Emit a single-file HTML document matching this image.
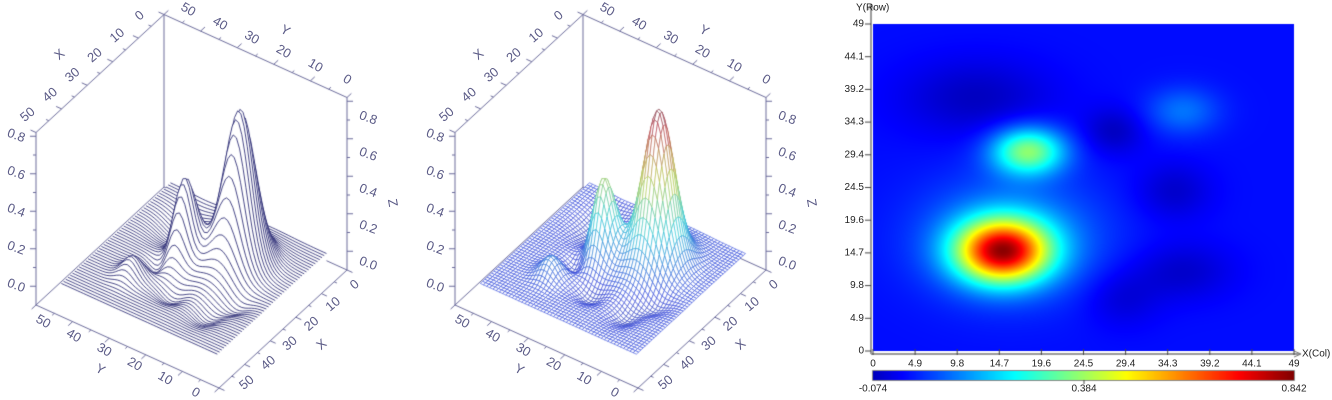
<!DOCTYPE html>
<html><head><meta charset="utf-8"><style>
body{margin:0;background:#fff;width:1332px;height:400px;overflow:hidden;position:relative;font-family:"Liberation Sans",sans-serif}
canvas,svg{position:absolute;left:0;top:0}
</style></head><body>
<canvas id="c" width="1332" height="400"></canvas>
<svg id="s" width="1332" height="400" xmlns="http://www.w3.org/2000/svg"></svg>
<script>
const cv=document.getElementById('c'),ctx=cv.getContext('2d');
const svg=document.getElementById('s');
function G(c,r,cx,cy,sx,sy){return Math.exp(-((c-cx)*(c-cx)/(2*sx*sx)+(r-cy)*(r-cy)/(2*sy*sy)));}
function f(c,r,d){
 const p1x=d?16.5:15,p1y=d?15.5:15,p2x=d?23:18,p2y=d?28.5:30,k=d?1.12:1,a2=d?0.42:0.36;
 return 0.69*G(c,r,p1x,p1y,3.8*k,3.3*k)+0.15*G(c,r,p1x+1,p1y+2,7,6)+a2*G(c,r,p2x,p2y,3*k,2.5*k)
 +0.1*G(c,r,36,36,3,2.5)-0.07*G(c,r,12,38,6,4)-0.07*G(c,r,28,33,2.5,2.5)-0.06*G(c,r,35,24,3,3)
 -0.06*G(c,r,36,12,4,3)-0.05*G(c,r,29,8,3,3);
}
function jet(t){t=Math.max(0,Math.min(1,t));t=0.06+0.94*t;
 const cl=x=>Math.round(255*Math.max(0,Math.min(1,x)));
 return [cl(1.5-Math.abs(4*t-3)),cl(1.5-Math.abs(4*t-2)),cl(1.5-Math.abs(4*t-1))];}
const ZMIN=-0.074,ZMAX=0.842;
function P(ox,X,Y,z){return [347+ox-128*X/50-183*Y/50,270+118*X/50-83*Y/50-(z+0.1)*187.5];}
const NS='http://www.w3.org/2000/svg';
function txt(x,y,s,rot,size,col,anchor){const t=document.createElementNS(NS,'text');
 t.setAttribute('x',x);t.setAttribute('y',y);t.setAttribute('font-size',size||13);
 t.setAttribute('fill',col||'#5a5a86');t.setAttribute('text-anchor',anchor||'middle');
 t.setAttribute('dominant-baseline','middle');
 if(rot)t.setAttribute('transform','rotate('+rot+' '+x+' '+y+')');t.textContent=s;svg.appendChild(t);}
function line(a,b,col,w){ctx.strokeStyle=col;ctx.lineWidth=w||1;ctx.beginPath();ctx.moveTo(a[0],a[1]);ctx.lineTo(b[0],b[1]);ctx.stroke();}
const AX='#6a6a9a';
function box(ox){
 const zt=0.82,zb=-0.1;
 const B=P(ox,0,50,zb),L=P(ox,50,50,zb),R=P(ox,0,0,zb);
 const Bt=P(ox,0,50,zt),Lt=P(ox,50,50,zt),Rt=P(ox,0,0,zt);
 line(B,Bt,AX);line(L,Lt,AX);line(R,Rt,AX);line(Bt,Lt,AX);line(Bt,Rt,AX);
 line(B,L,AX);line(B,R,AX);
}
function front(ox){
 const zt=0.82,zb=-0.1;
 const L=P(ox,50,50,zb),R=P(ox,0,0,zb),F=P(ox,50,0,zb);
 line(L,F,AX);line(F,R,AX);
 for(let k=0;k<=50;k+=5){const m=k%10==0?6:3;
  let a=P(ox,k,50,zt);line(a,[a[0]-m*0.91,a[1]-m*0.41],AX);
  a=P(ox,0,k,zt);line(a,[a[0]+m*0.73,a[1]-m*0.68],AX);
  a=P(ox,50,k,zb);line(a,[a[0]-m*0.73,a[1]+m*0.68],AX);
  a=P(ox,k,0,zb);line(a,[a[0]+m*0.91,a[1]+m*0.41],AX);}
 for(let i=0;i<=8;i++){const z=i/10,m=i%2==0?6:3;
  let a=P(ox,50,50,z);line(a,[a[0]-m,a[1]],AX);
  a=P(ox,0,0,z);line(a,[a[0]+m,a[1]],AX);}
 for(let k=0;k<=50;k+=10){
  txt(ox+140-k*2.24,16+k*1.98,String(k),-40);
  txt(ox+188+(50-k)*3.18,10+(50-k)*1.4,String(k),30);
  txt(ox+43+(50-k)*3.05,322+(50-k)*1.42,String(k),30);
  txt(ox+355-k*2.16,285+k*1.96,String(k),-40);}
 for(let i=0;i<=4;i++){const z=i*0.2;
  txt(ox+16,286-z*187.5,z.toFixed(1),20);
  txt(ox+368,264-z*182,z.toFixed(1),20);}
 txt(ox+60,55,'X',-40);txt(ox+285,31,'Y',30);txt(ox+100,370,'Y',30);txt(ox+322,345,'X',-40);txt(ox+392,203,'Z',80);
}
const N=50;const Z=[];
for(let i=0;i<N;i++){Z.push([]);for(let j=0;j<N;j++)Z[i].push(f(i,j,1));}
const M=c=>3.3+c*0.87;
box(0);
ctx.lineJoin='round';
for(let i=0;i<N;i++){
 ctx.beginPath();
 for(let j=0;j<N;j++){const p=P(0,M(i),M(j),Z[i][j]);if(j==0)ctx.moveTo(p[0],p[1]);else ctx.lineTo(p[0],p[1]);}
 let p=P(0,M(i),M(N-1),-0.1);ctx.lineTo(p[0],p[1]);p=P(0,M(i),M(0),-0.1);ctx.lineTo(p[0],p[1]);ctx.closePath();
 ctx.fillStyle='#fff';ctx.fill();
 ctx.beginPath();
 for(let j=0;j<N;j++){const p=P(0,M(i),M(j),Z[i][j]);if(j==0)ctx.moveTo(p[0],p[1]);else ctx.lineTo(p[0],p[1]);}
 ctx.strokeStyle='#1a1a6a';ctx.lineWidth=0.8;ctx.stroke();
}
front(0);
const OX=419;box(OX);
const cells=[];for(let i=0;i<N-1;i++)for(let j=0;j<N-1;j++)cells.push([i,j]);
cells.sort((a,b)=>(a[0]-a[1])-(b[0]-b[1]));
ctx.lineWidth=0.6;
for(const [i,j] of cells){
 const q=[[i,j],[i+1,j],[i+1,j+1],[i,j+1]].map(([a,b])=>P(OX,M(a),M(b),Z[a][b]));
 ctx.beginPath();ctx.moveTo(q[0][0],q[0][1]);for(let k=1;k<4;k++)ctx.lineTo(q[k][0],q[k][1]);ctx.closePath();
 ctx.fillStyle='#fff';ctx.fill();
 const zz=(Z[i][j]+Z[i+1][j]+Z[i+1][j+1]+Z[i][j+1])/4;
 const c=jet((zz-ZMIN)/(ZMAX-ZMIN));
 const lc=[Math.round(c[0]*0.55+100*0.45),Math.round(c[1]*0.55+140*0.45),Math.round(c[2]*0.55+170*0.45)];
 ctx.strokeStyle='rgb('+lc.join(',')+')';ctx.stroke();
}
front(OX);
const hx=873,hy=24,hw=421,hh=327;
const img=ctx.createImageData(hw,hh);
for(let y=0;y<hh;y++)for(let x=0;x<hw;x++){
 const c=x/hw*49,r=49-y/hh*49;const v=f(c,r,0);const col=jet((v-ZMIN)/(ZMAX-ZMIN));
 const k=(y*hw+x)*4;img.data[k]=col[0];img.data[k+1]=col[1];img.data[k+2]=col[2];img.data[k+3]=255;}
ctx.putImageData(img,hx,hy);
for(let x=0;x<hw;x++){const col=jet(x/hw);ctx.fillStyle='rgb('+col.join(',')+')';ctx.fillRect(hx+x,371,1,9);}
ctx.strokeStyle='#888';ctx.lineWidth=1;ctx.strokeRect(hx-0.5,370.5,hw+1,10);
line([871,354],[871,6],'#999',2);line([871,354],[1300,354],'#999',2);
line([868,10],[871,4],'#777',1);line([874,10],[871,4],'#777',1);
line([1294,351],[1301,354],'#777',1);line([1294,357],[1301,354],'#777',1);
const lab=['0','4.9','9.8','14.7','19.6','24.5','29.4','34.3','39.2','44.1','49'];
for(let i=0;i<=10;i++){
 const y=351-i*hh/10;line([865,y],[871,y],'#444',1);txt(864,y,lab[i],0,10,'#222','end');
 const x=hx+i*hw/10;line([x,349],[x,355],'#444',1);txt(x,364,lab[i],0,10,'#222','middle');
}
line([1084,380],[1084,384],'#444',1);
txt(873,389,'-0.074',0,10,'#222','middle');txt(1084,389,'0.384',0,10,'#222','middle');txt(1294,389,'0.842',0,10,'#222','middle');
txt(856,8,'Y(Row)',0,10,'#222','start');txt(1302,354,'X(Col)',0,10,'#222','start');
</script>
</body></html>
